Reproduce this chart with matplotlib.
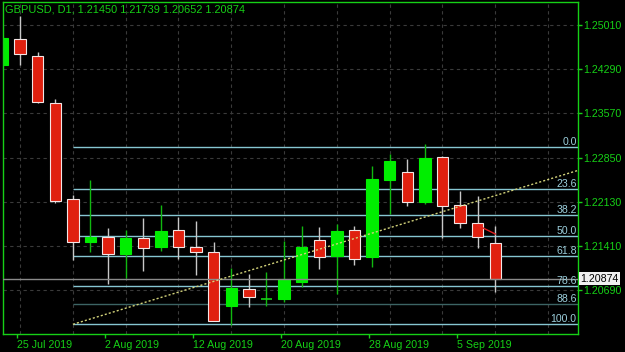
import numpy as np
import matplotlib
matplotlib.use("Agg")
import matplotlib.pyplot as plt
import matplotlib.transforms as mtransforms

plt.rcParams['font.family'] = ['Liberation Sans', 'DejaVu Sans']

# daily bars, GBPUSD D1
opens = [1.24358, 1.24777, 1.24505, 1.23734, 1.22168, 1.21477, 1.21549, 1.21272, 1.21537, 1.21396,
         1.21668, 1.21391, 1.21304, 1.20434, 1.20701, 1.20550, 1.20543, 1.20825, 1.21505, 1.21249,
         1.21668, 1.21232, 1.22488, 1.22618, 1.22129, 1.22853, 1.22071, 1.21777, 1.21450]
highs = [1.24793, 1.25157, 1.24575, 1.23804, 1.22239, 1.22483, 1.21706, 1.21668, 1.21869, 1.22076,
         1.21885, 1.21815, 1.21467, 1.21053, 1.20951, 1.20988, 1.21488, 1.21733, 1.21712, 1.21766,
         1.21733, 1.22711, 1.22907, 1.22821, 1.23070, 1.22874, 1.22304, 1.22222, 1.21739]
lows = [1.24358, 1.24358, 1.23743, 1.22103, 1.21179, 1.21314, 1.20783, 1.20881, 1.21004, 1.21331,
        1.21195, 1.20934, 1.20184, 1.20119, 1.20408, 1.20434, 1.20489, 1.20734, 1.21032, 1.20625,
        1.21097, 1.21070, 1.21924, 1.22059, 1.22092, 1.21543, 1.21706, 1.21379, 1.20652]
closes = [1.24793, 1.24532, 1.23760, 1.22146, 1.21467, 1.21559, 1.21272, 1.21542, 1.21379, 1.21652,
          1.21396, 1.21314, 1.20189, 1.20728, 1.20571, 1.20558, 1.20869, 1.21391, 1.21233, 1.21652,
          1.21190, 1.22499, 1.22798, 1.22129, 1.22837, 1.22059, 1.21787, 1.21559, 1.20874]

price_ticks = [1.25010, 1.24290, 1.23570, 1.22850, 1.22130, 1.21410, 1.20690]
date_bars = [1, 6, 11, 16, 21, 26]
date_labels = ['25 Jul 2019', '2 Aug 2019', '12 Aug 2019', '20 Aug 2019', '28 Aug 2019', '5 Sep 2019']

fib_high = 1.23026
fib_low = 1.20131
fib_start_bar = 4
fib_levels = [0.0, 23.6, 38.2, 50.0, 61.8, 78.6, 88.6, 100.0]

trend_pts = [(4, 1.20131), (28, 1.22229)]
red_seg = [(27, 1.21745), (28, 1.21603)]
bid = 1.20874

GREEN = '#16d016'
BG = 'black'

fig = plt.figure(figsize=(6.25, 3.52), dpi=100, facecolor=BG)
ax = fig.add_axes([3 / 625, 18 / 352, 575 / 625, 332 / 352], facecolor=BG)
xmin, xmax = 0.03, 32.7
ax.set_xlim(xmin, xmax)
ax.set_ylim(1.19973, 1.25385)

# grid
for p in price_ticks:
    ax.axhline(p, color='#3a3a3a', lw=0.8, dashes=(3, 3), zorder=0)
for b in range(1, 33, 3):
    ax.axvline(b, color='#3a3a3a', lw=0.8, dashes=(3, 3), zorder=0)

# fibonacci levels
for lv in fib_levels:
    p = fib_high - (fib_high - fib_low) * lv / 100
    col = '#3c6464' if lv == 88.6 else '#86c6d2'
    ax.hlines(p, fib_start_bar, xmax, color=col, lw=1.0, zorder=1)
    ax.text(xmax - 0.08, p, f'{lv:.1f}', color='#9ccfdc', fontsize=7.6,
            ha='right', va='bottom', zorder=5)

# bid line
ax.axhline(bid, color='#8a8a8a', lw=1.0, zorder=3)

# candles
w = 0.64
x = np.arange(len(opens))
for i in x:
    o, h, l, c = opens[i], highs[i], lows[i], closes[i]
    up = c >= o
    wick = '#10b810' if up else '#c8c8c8'
    face = '#00ee00' if up else '#e0200f'
    edge = '#00ee00' if up else '#f2e6e6'
    ax.vlines(i, l, h, color=wick, lw=1.0, zorder=2)
    lo, hi = min(o, c), max(o, c)
    if hi - lo < 0.0002:
        ax.hlines(o, i - w / 2, i + w / 2, color=GREEN, lw=1.2, zorder=2)
    else:
        ax.bar(i, hi - lo, bottom=lo, width=w, color=face, edgecolor=edge,
               linewidth=0.8, zorder=2)

# trend line (ray to the right)
(x0, y0), (x1, y1) = trend_pts
slope = (y1 - y0) / (x1 - x0)
ax.plot([x0, xmax], [y0, y0 + slope * (xmax - x0)], color='#d2d27a',
        lw=1.0, ls=(0, (1.5, 1.5)), zorder=4)
ax.plot([red_seg[0][0], red_seg[1][0]], [red_seg[0][1], red_seg[1][1]],
        color='#e02020', lw=1.0, zorder=4)

# axes styling
for s in ax.spines.values():
    s.set_color(GREEN)
    s.set_linewidth(1.0)
ax.yaxis.tick_right()
ax.set_yticks(price_ticks)
ax.set_yticklabels([f'{p:.5f}' for p in price_ticks])
ax.set_xticks([b - 0.17 for b in date_bars])
ax.set_xticklabels(date_labels)
for t in ax.get_xticklabels():
    t.set_ha('left')
ax.tick_params(axis='both', colors=GREEN, labelcolor=GREEN, length=3,
               width=1, labelsize=7.7, pad=1)
ax.tick_params(axis='x', pad=1.5)

# bid price label
tr = mtransforms.blended_transform_factory(ax.transAxes, ax.transData)
ax.text(1.004, bid, f'{bid:.5f}', transform=tr, color='black', fontsize=7.7,
        va='center', ha='left', zorder=10, clip_on=False,
        bbox=dict(boxstyle='square,pad=0.12', facecolor='#f0f0f0', edgecolor='none'))

fig.text(5 / 625, 1 - 10 / 352, 'GBPUSD, D1, 1.21450 1.21739 1.20652 1.20874',
         color=GREEN, fontsize=7.9, va='center', ha='left')

fig.savefig('out.png', dpi=100, facecolor=BG)
